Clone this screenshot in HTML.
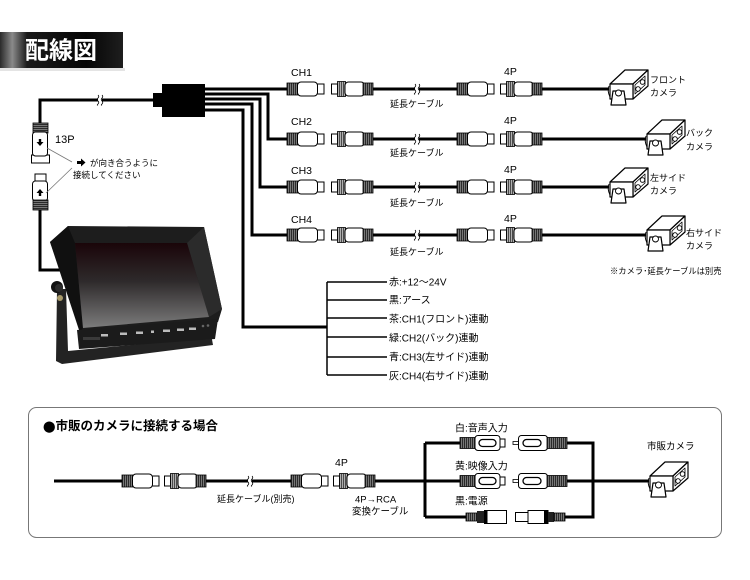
<!DOCTYPE html>
<html><head><meta charset="utf-8"><style>
html,body{margin:0;padding:0;background:#fff;}
svg{display:block;}
text{font-family:"Liberation Sans","Noto Sans CJK JP",sans-serif;fill:#000;}
</style></head><body>
<svg width="750" height="580" viewBox="0 0 750 580" xmlns="http://www.w3.org/2000/svg">
<defs>
<linearGradient id="tg" x1="0" y1="0" x2="1" y2="0">
<stop offset="0" stop-color="#2a2a2a"/><stop offset="0.1" stop-color="#8a8a8a"/><stop offset="0.22" stop-color="#1a1a1a"/><stop offset="0.7" stop-color="#050505"/><stop offset="1" stop-color="#1e1e1e"/>
</linearGradient>
<linearGradient id="scr" x1="0" y1="0" x2="0" y2="1">
<stop offset="0" stop-color="#1a0509"/><stop offset="0.45" stop-color="#2e2a2b"/><stop offset="1" stop-color="#7c7c7c"/>
</linearGradient>
<pattern id="rib" width="2" height="4" patternUnits="userSpaceOnUse"><rect width="2" height="4" fill="#2a2a2a"/><rect x="1.2" width="0.8" height="4" fill="#8a8a8a"/></pattern>
<pattern id="rib2" width="2" height="4" patternUnits="userSpaceOnUse"><rect width="2" height="4" fill="#4a4a4a"/><rect x="1.2" width="0.8" height="4" fill="#c8c8c8"/></pattern>
<pattern id="ribv" width="4" height="2" patternUnits="userSpaceOnUse"><rect width="4" height="2" fill="#2a2a2a"/><rect y="1.2" width="4" height="0.8" fill="#8a8a8a"/></pattern>
<g id="male">
<rect x="0" y="-6" width="11" height="12" fill="url(#rib)" stroke="#000" stroke-width="0.8"/>
<rect x="29" y="-5" width="8" height="10" fill="#fff" stroke="#000" stroke-width="1"/>
<rect x="10.5" y="-7" width="20" height="14" rx="3.5" fill="#fff" stroke="#000" stroke-width="1"/>
</g>
<g id="female">
<rect x="0.5" y="-5" width="6" height="10" fill="#fff" stroke="#000" stroke-width="1"/>
<rect x="6.5" y="-7.5" width="8" height="15" fill="url(#rib2)" stroke="#000" stroke-width="0.8"/>
<rect x="14" y="-7" width="19.5" height="14" rx="3.5" fill="#fff" stroke="#000" stroke-width="1"/>
<rect x="32" y="-6" width="10" height="12" fill="url(#rib)" stroke="#000" stroke-width="0.8"/>
</g>
<g id="rcam">
<rect x="0" y="-5.5" width="15" height="11" fill="url(#rib)" stroke="#000" stroke-width="0.8"/>
<rect x="39" y="-4" width="6" height="8" fill="#fff" stroke="#000" stroke-width="1"/>
<rect x="15" y="-7.5" width="25" height="15" rx="3" fill="#fff" stroke="#000" stroke-width="1"/>
<rect x="19" y="-3.5" width="17" height="7" rx="3.5" fill="#fff" stroke="#000" stroke-width="1.3"/>
</g>
<g id="rcaf">
<rect x="0" y="-1.5" width="6" height="3" fill="#fff" stroke="#000" stroke-width="0.8"/>
<rect x="5.5" y="-7.5" width="29" height="15" rx="3" fill="#fff" stroke="#000" stroke-width="1"/>
<rect x="10" y="-3.5" width="18" height="7" rx="3.5" fill="#fff" stroke="#000" stroke-width="1.3"/>
<rect x="34" y="-5.5" width="20" height="11" fill="url(#rib)" stroke="#000" stroke-width="0.8"/>
</g>
<g id="cam" fill="#fff" stroke="#000" stroke-width="1.2" stroke-linejoin="round">
<polygon points="2,-5 17,-19 40,-19 25,-5"/>
<polygon points="25,-5 40,-19 40,-3 25,10"/>
<polygon points="2,-5 25,-5 25,10 2,10"/>
<polygon points="27,-4 37,-13 37,-4 27,5" fill="#fff" stroke-width="0.8"/>
<circle cx="30" cy="0" r="2.3" stroke-width="0.9"/>
<circle cx="34.5" cy="-7" r="2.3" stroke-width="0.9"/>
<polygon points="5,2 16,2 18,16 3,16"/>
<circle cx="10.5" cy="4" r="3" stroke-width="0.9"/>
<path d="M1,-3 Q-1,2 2,8" fill="none" stroke-width="0.9"/>
</g>
<g id="brk">
<rect x="-2" y="-3" width="4" height="6" fill="#fff"/>
<path d="M-2,-5 q1.5,1.5 0,3 q-1.5,1.5 0,3 q1.5,1.5 0,3 q-1.5,1.5 0,1" fill="none" stroke="#000" stroke-width="0.8"/>
<path d="M2,-5 q1.5,1.5 0,3 q-1.5,1.5 0,3 q1.5,1.5 0,3 q-1.5,1.5 0,1" fill="none" stroke="#000" stroke-width="0.8"/>
</g>
</defs>

<!-- Title -->
<rect x="0" y="32" width="123" height="36" fill="url(#tg)"/>
<rect x="0" y="68" width="125" height="3" fill="#e4e4e4"/>
<text x="25" y="51" font-size="24" font-weight="bold" dominant-baseline="central" style="fill:#fff">配線図</text>

<!-- Cables (thick) -->
<g fill="none" stroke="#000" stroke-width="3" stroke-linejoin="miter">
<path d="M153,100 H40 V124"/>
<path d="M40,209 V270 H62"/>
<path d="M205,89 H288"/>
<path d="M205,94 H268 V139 H288"/>
<path d="M205,99 H260 V187 H288"/>
<path d="M205,104 H252 V235 H288"/>
<path d="M205,110 H243 V327 H327"/>
<path d="M373,89 H458 M542,89 H609"/>
<path d="M373,139 H458 M542,139 H646"/>
<path d="M373,187 H458 M542,187 H609"/>
<path d="M373,235 H458 M542,235 H646"/>
<path d="M54,481 H123 M206,481 H292 M375,481 H425"/>
<path d="M425,443 V517 M425,443 H461 M425,481 H461 M425,517 H467"/>
<path d="M566,443 H593 V517 H565 M566,481 H649"/>
</g>
<use href="#brk" x="100" y="100"/>
<use href="#brk" x="417" y="89"/>
<use href="#brk" x="417" y="139"/>
<use href="#brk" x="417" y="187"/>
<use href="#brk" x="417" y="235"/>
<use href="#brk" x="250" y="481"/>

<!-- junction box -->
<rect x="153" y="93" width="10" height="14" fill="#000"/>
<rect x="162" y="84" width="43" height="33" fill="#000"/>

<!-- 13P connectors -->
<rect x="33" y="123" width="15" height="10" fill="url(#ribv)" stroke="#000" stroke-width="0.8"/>
<rect x="31.5" y="155" width="18" height="8" fill="#fff" stroke="#000" stroke-width="1"/>
<rect x="32.5" y="132" width="15" height="24" rx="3" fill="#fff" stroke="#000" stroke-width="1"/>
<path d="M38.8,139 h2.4 v3 h2.3 l-3.5,4 l-3.5,-4 h2.3z" fill="#000"/>
<rect x="35" y="174" width="11" height="8" fill="#fff" stroke="#000" stroke-width="1"/>
<rect x="32.5" y="181" width="15" height="20" rx="3" fill="#fff" stroke="#000" stroke-width="1"/>
<rect x="33" y="200" width="15" height="10" fill="url(#ribv)" stroke="#000" stroke-width="0.8"/>
<path d="M38.8,196 h2.4 v-3 h2.3 l-3.5,-4 l-3.5,4 h2.3z" fill="#000"/>
<path d="M47,148 L72,162 M46,193 L72,168" stroke="#777" stroke-width="0.8" fill="none"/>
<text x="55" y="140" font-size="11" dominant-baseline="central">13P</text>
<path d="M77,161 h4 v-2.5 l4.5,4 l-4.5,4 v-2.5 h-4z" fill="#000"/>
<text x="90" y="163" font-size="8.5" dominant-baseline="central">が向き合うように</text>
<text x="73" y="175" font-size="8.5" dominant-baseline="central">接続してください</text>

<!-- Monitor -->
<polygon points="57,289 66,289 68,351 205,338 211,334 213,345 62,364 56,361" fill="#232323"/>
<polygon points="50,242 68,226 204,227 222,309 218,322 82,332" fill="#1d1d1d"/>
<polygon points="50,242 68,226 75,243 83,328 80,333" fill="#101010"/>
<polygon points="187,243 204,227 222,309 209,317" fill="#2b2b2b"/>
<polygon points="75,243 187,243 209,317 83,328" fill="url(#scr)"/>
<polygon points="77,330 218,319 215,339 79,349" fill="#1b1b1b"/>
<g fill="#bbb">
<rect x="101" y="334" width="7" height="2.5"/><rect x="120" y="332.5" width="7" height="2.5"/><rect x="136" y="331.5" width="7" height="2.5"/><rect x="151" y="330.5" width="3" height="2.5"/><rect x="163" y="329.5" width="7" height="2.5"/><rect x="177" y="328.5" width="7" height="2.5"/><rect x="189" y="327.5" width="7" height="2.5"/>
</g>
<circle cx="203" cy="326" r="1.3" fill="#666"/><circle cx="208" cy="325.5" r="1.3" fill="#666"/>
<rect x="83" y="337" width="17" height="3" fill="#3a3a3a"/>
<ellipse cx="57" cy="287" rx="6" ry="6" fill="#111"/>
<ellipse cx="59" cy="288" rx="4" ry="4" fill="#2a2a2a"/>
<circle cx="60" cy="298" r="3" fill="#a89a6a"/>

<!-- CH labels and connectors -->
<g font-size="10.5">
<text x="291" y="73" dominant-baseline="central">CH1</text>
<text x="291" y="122" dominant-baseline="central">CH2</text>
<text x="291" y="171" dominant-baseline="central">CH3</text>
<text x="291" y="220" dominant-baseline="central">CH4</text>
<text x="504" y="72" dominant-baseline="central">4P</text>
<text x="504" y="121" dominant-baseline="central">4P</text>
<text x="504" y="170" dominant-baseline="central">4P</text>
<text x="504" y="219" dominant-baseline="central">4P</text>
</g>
<g font-size="9">
<text x="390" y="104" dominant-baseline="central">延長ケーブル</text>
<text x="390" y="153" dominant-baseline="central">延長ケーブル</text>
<text x="390" y="203" dominant-baseline="central">延長ケーブル</text>
<text x="390" y="252" dominant-baseline="central">延長ケーブル</text>
</g>
<use href="#male" x="287" y="89"/><use href="#female" x="331" y="89"/><use href="#male" x="457" y="89"/><use href="#female" x="500" y="89"/>
<use href="#male" x="287" y="139"/><use href="#female" x="331" y="139"/><use href="#male" x="457" y="139"/><use href="#female" x="500" y="139"/>
<use href="#male" x="287" y="187"/><use href="#female" x="331" y="187"/><use href="#male" x="457" y="187"/><use href="#female" x="500" y="187"/>
<use href="#male" x="287" y="235"/><use href="#female" x="331" y="235"/><use href="#male" x="457" y="235"/><use href="#female" x="500" y="235"/>

<!-- cameras -->
<use href="#cam" x="608" y="89"/>
<use href="#cam" x="645" y="139"/>
<use href="#cam" x="608" y="187"/>
<use href="#cam" x="645" y="235"/>
<g font-size="9">
<text x="650" y="80" dominant-baseline="central">フロント</text>
<text x="650" y="93" dominant-baseline="central">カメラ</text>
<text x="686" y="133" dominant-baseline="central">バック</text>
<text x="686" y="147" dominant-baseline="central">カメラ</text>
<text x="650" y="178" dominant-baseline="central">左サイド</text>
<text x="650" y="191" dominant-baseline="central">カメラ</text>
<text x="686" y="233" dominant-baseline="central">右サイド</text>
<text x="686" y="246" dominant-baseline="central">カメラ</text>
</g>
<text x="610" y="271" font-size="8.3" dominant-baseline="central">※カメラ･延長ケーブルは別売</text>

<!-- wire labels bracket -->
<g stroke="#000" stroke-width="1.5" fill="none">
<path d="M327,282 V375"/>
<path d="M327,282 H387 M327,300 H387 M327,318 H387 M327,337 H387 M327,357 H387 M327,375 H387"/>
</g>
<g font-size="10">
<text x="389" y="283" dominant-baseline="central">赤:+12～24V</text>
<text x="389" y="301" dominant-baseline="central">黒:アース</text>
<text x="389" y="320" dominant-baseline="central">茶:CH1(フロント)連動</text>
<text x="389" y="339" dominant-baseline="central">緑:CH2(バック)連動</text>
<text x="389" y="358" dominant-baseline="central">青:CH3(左サイド)連動</text>
<text x="389" y="377" dominant-baseline="central">灰:CH4(右サイド)連動</text>
</g>

<!-- bottom box -->
<rect x="28.5" y="407.5" width="693" height="130" rx="8" fill="none" stroke="#777" stroke-width="1"/>
<text x="43" y="426" font-size="12.5" font-weight="bold" dominant-baseline="central"><tspan style="font-family:'Noto Sans CJK JP',sans-serif">●</tspan>市販のカメラに接続する場合</text>
<use href="#male" x="122" y="481"/><use href="#female" x="164" y="481"/>
<use href="#male" x="291" y="481"/><use href="#female" x="333" y="481"/>
<text x="217" y="499" font-size="9" dominant-baseline="central">延長ケーブル(別売)</text>
<text x="335" y="463" font-size="10.5" dominant-baseline="central">4P</text>
<text x="355" y="500" font-size="9.5" dominant-baseline="central">4P→RCA</text>
<text x="352" y="512" font-size="9.5" dominant-baseline="central">変換ケーブル</text>

<use href="#rcam" x="460" y="443"/><use href="#rcaf" x="513" y="443"/>
<use href="#rcam" x="460" y="481"/><use href="#rcaf" x="513" y="481"/>
<!-- DC connectors -->
<rect x="466" y="513" width="11" height="8" fill="url(#rib)" stroke="#000" stroke-width="0.8"/>
<rect x="477" y="511" width="8" height="12" fill="#222"/>
<rect x="484.5" y="510.5" width="22" height="13" fill="#fff" stroke="#000" stroke-width="1"/>
<rect x="484.5" y="510.5" width="3" height="13" fill="#000"/>
<rect x="515.5" y="512.5" width="13" height="9" fill="#fff" stroke="#000" stroke-width="1"/>
<rect x="528" y="510.5" width="20" height="13" fill="#fff" stroke="#000" stroke-width="1"/>
<rect x="544" y="510.5" width="4" height="13" fill="#000"/>
<rect x="548" y="512" width="6" height="10" fill="#222"/>
<rect x="554" y="513" width="11" height="8" fill="url(#rib)" stroke="#000" stroke-width="0.8"/>
<g font-size="10">
<text x="455" y="429" dominant-baseline="central">白:音声入力</text>
<text x="455" y="467" dominant-baseline="central">黄:映像入力</text>
<text x="455" y="502" dominant-baseline="central">黒:電源</text>
</g>
<text x="647" y="447" font-size="9.5" dominant-baseline="central">市販カメラ</text>
<use href="#cam" x="648" y="481"/>
</svg>
</body></html>
